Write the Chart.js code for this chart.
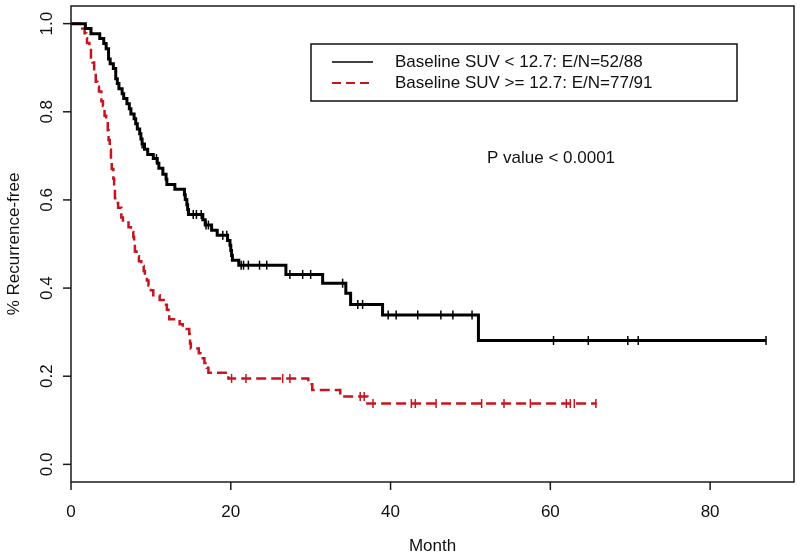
<!DOCTYPE html>
<html><head><meta charset="utf-8">
<script src="https://cdn.jsdelivr.net/npm/chart.js@4.4.0/dist/chart.umd.min.js"></script>
<style>html,body{margin:0;padding:0;background:#fff}canvas{display:block}</style>
</head><body>
<canvas id="c" width="800" height="558"></canvas>
<script>
// ---- data ----
const xTicks = [0, 20, 40, 60, 80];
const yTicks = [0.0, 0.2, 0.4, 0.6, 0.8, 1.0];
const xTitle = "Month";
const yTitle = "% Recurrence-free";
const pValueText = "P value < 0.0001";

const lowLabel = "Baseline SUV < 12.7: E/N=52/88";
const lowTime = [0,1.8,2.5,3.6,4.1,4.4,4.7,4.9,5.3,5.6,5.8,6.0,6.4,6.6,7.0,7.3,7.5,7.9,8.1,8.3,8.6,8.75,8.9,9.2,9.6,10.3,10.8,11.0,11.5,11.9,12.0,13.0,14.2,14.3,14.5,14.6,14.7,16.5,16.8,17.6,18.3,19.6,19.9,20.0,20.1,20.2,21.0,26.9,31.5,34.4,35.0,39.0,51.0,87.0];
const lowSurv = [1,0.989,0.977,0.966,0.955,0.943,0.92,0.909,0.898,0.875,0.864,0.852,0.841,0.83,0.818,0.807,0.795,0.784,0.773,0.761,0.75,0.738,0.727,0.715,0.703,0.694,0.683,0.672,0.658,0.647,0.635,0.624,0.612,0.601,0.589,0.578,0.567,0.555,0.543,0.531,0.52,0.508,0.497,0.485,0.474,0.463,0.452,0.431,0.411,0.388,0.363,0.339,0.281,0.281];
const lowCensor = [8.9,10.7,15.3,15.7,16.3,16.9,17.2,19.0,19.5,21.3,21.6,22.2,23.6,24.5,27.4,29.0,30.0,34.0,35.9,36.5,39.7,40.7,43.4,46.3,47.8,50.2,60.4,64.75,69.7,71.0,87.0];

const highLabel = "Baseline SUV >= 12.7: E/N=77/91";
const highTime = [0,1.4,1.7,1.9,2.0,2.3,2.5,2.7,2.9,3.1,3.3,3.5,3.8,4.0,4.2,4.4,4.6,4.7,4.85,5.0,5.1,5.3,5.4,5.5,5.7,5.9,6.3,6.5,7.2,7.5,7.8,7.9,8.0,8.2,8.5,8.8,9.1,9.25,9.5,9.7,10.0,10.3,11.1,11.6,12.0,12.2,12.3,13.6,14.0,14.8,14.85,14.9,15.0,16.0,16.2,16.7,17.0,17.2,19.7,29.7,30.2,33.7,37.1,65.8];
const highSurv = [1,0.989,0.978,0.967,0.956,0.945,0.923,0.912,0.89,0.868,0.857,0.846,0.824,0.813,0.791,0.78,0.758,0.736,0.714,0.692,0.67,0.648,0.626,0.604,0.593,0.582,0.56,0.549,0.538,0.527,0.516,0.505,0.483,0.472,0.461,0.45,0.439,0.428,0.417,0.406,0.395,0.384,0.373,0.362,0.351,0.34,0.329,0.318,0.307,0.296,0.285,0.274,0.263,0.252,0.241,0.23,0.219,0.208,0.195,0.182,0.169,0.154,0.138,0.138];
const highCensor = [20.1,21.9,26.5,27.4,36.2,36.7,37.8,42.6,43.1,45.7,51.4,54.2,57.5,62.0,62.5,63.0,65.7];

// ---- helpers ----
const BLACK = '#000000';
const RED = '#c8141e';
const FONT = '"Liberation Sans", Arial, Helvetica, sans-serif';
function pts(t, s) { return t.map((v, i) => ({x: v, y: s[i]})); }
function survAt(t, s, x) { let v = s[0]; for (let i = 0; i < t.length; i++) { if (t[i] <= x) v = s[i]; } return v; }
function censorPts(c, t, s) { return c.map(x => ({x: x, y: survAt(t, s, x)})); }

const decor = {
  id: 'decor',
  afterDraw(chart) {
    const ctx = chart.ctx, a = chart.chartArea;
    const xs = chart.scales.x, ys = chart.scales.y;
    ctx.save();
    ctx.strokeStyle = '#1a1a1a';
    ctx.lineWidth = 1.5;
    ctx.strokeRect(a.left, a.top, a.right - a.left, a.bottom - a.top);
    ctx.fillStyle = '#111';
    ctx.font = '17px ' + FONT;
    // x ticks
    ctx.textAlign = 'center'; ctx.textBaseline = 'middle';
    xTicks.forEach(v => {
      const px = xs.getPixelForValue(v);
      ctx.beginPath(); ctx.moveTo(px, a.bottom); ctx.lineTo(px, a.bottom + 8); ctx.stroke();
      ctx.fillText(String(v), px, 512);
    });
    // y ticks
    yTicks.forEach(v => {
      const py = ys.getPixelForValue(v);
      ctx.beginPath(); ctx.moveTo(a.left, py); ctx.lineTo(a.left - 8, py); ctx.stroke();
      ctx.save(); ctx.translate(47, py); ctx.rotate(-Math.PI / 2);
      ctx.fillText(v.toFixed(1), 0, 0); ctx.restore();
    });
    // titles
    ctx.fillText(xTitle, (a.left + a.right) / 2, 546);
    ctx.save(); ctx.translate(14, (a.top + a.bottom) / 2); ctx.rotate(-Math.PI / 2);
    ctx.fillText(yTitle, 0, 0); ctx.restore();
    // p value
    ctx.textAlign = 'left';
    ctx.fillText(pValueText, 487, 158);
    // legend
    ctx.lineWidth = 1.5; ctx.strokeStyle = '#111';
    ctx.strokeRect(311, 44, 426, 57);
    ctx.fillText(lowLabel, 395, 62);
    ctx.fillText(highLabel, 395, 83);
    ctx.strokeStyle = BLACK; ctx.lineWidth = 1.5;
    ctx.beginPath(); ctx.moveTo(332, 62); ctx.lineTo(373, 62); ctx.stroke();
    ctx.strokeStyle = RED; ctx.lineWidth = 2; ctx.setLineDash([9, 5]);
    ctx.beginPath(); ctx.moveTo(332, 83); ctx.lineTo(373, 83); ctx.stroke();
    ctx.restore();
  }
};

new Chart(document.getElementById('c'), {
  type: 'line',
  data: {
    datasets: [
      {label: lowLabel, data: pts(lowTime, lowSurv), borderColor: BLACK, borderWidth: 3, stepped: 'before', pointRadius: 0, fill: false},
      {label: highLabel, data: pts(highTime, highSurv), borderColor: RED, borderWidth: 2.5, borderDash: [10, 5], stepped: 'before', pointRadius: 0, fill: false},
      {type: 'scatter', label: 'cens1', data: censorPts(lowCensor, lowTime, lowSurv), pointStyle: 'line', rotation: 90, pointRadius: 4.5, borderColor: BLACK, borderWidth: 1.5, showLine: false},
      {type: 'scatter', label: 'cens2', data: censorPts(highCensor, highTime, highSurv), pointStyle: 'line', rotation: 90, pointRadius: 4.5, borderColor: RED, borderWidth: 1.5, showLine: false}
    ]
  },
  options: {
    responsive: false,
    animation: false,
    devicePixelRatio: 1,
    layout: {padding: {left: 71, top: 4, right: 5, bottom: 76}},
    plugins: {legend: {display: false}, tooltip: {enabled: false}},
    scales: {
      x: {type: 'linear', min: 0, max: 90.5, display: false},
      y: {type: 'linear', min: -0.04, max: 1.04, display: false}
    }
  },
  plugins: [decor]
});
</script>
</body></html>
